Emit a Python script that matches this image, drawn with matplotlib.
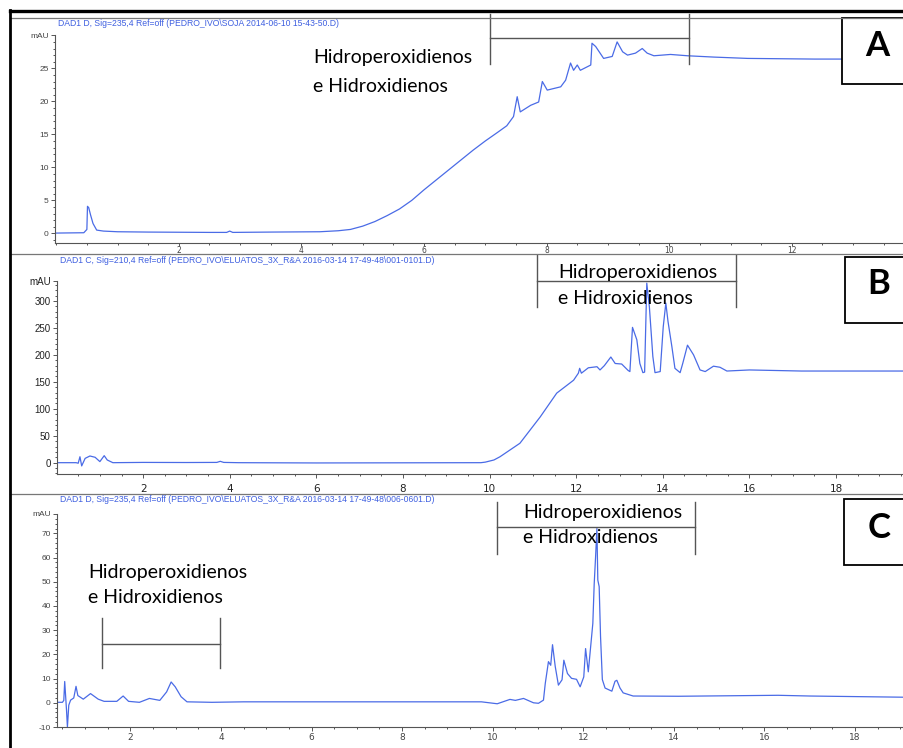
import matplotlib.pyplot as plt
from matplotlib.ticker import MultipleLocator, FixedLocator
from matplotlib.patches import Rectangle
from matplotlib.lines import Line2D

# ---- panel A : SOJA 2014-06-10, 235,4 nm ----
a_time = [0, 0.45, 0.50, 0.51, 0.53, 0.56, 0.60, 0.66, 0.77, 1.0, 1.5, 2.5, 2.78, 2.83, 2.88,
          3.5, 4.3, 4.6, 4.8, 5.0, 5.2, 5.4, 5.6, 5.8, 6.0, 6.2, 6.4, 6.6, 6.8, 7.0, 7.2,
          7.35, 7.46, 7.52, 7.57, 7.74, 7.87, 7.93, 8.01, 8.23, 8.31, 8.39, 8.44, 8.50,
          8.55, 8.72, 8.74, 8.80, 8.93, 9.07, 9.15, 9.24, 9.32, 9.45, 9.56, 9.64, 9.75,
          10.02, 10.3, 10.73, 11.28, 12.37, 13.85]
a_signal = [0.05, 0.1, 0.6, 4.1, 3.9, 2.8, 1.5, 0.5, 0.35, 0.25, 0.2, 0.15, 0.15, 0.35, 0.15,
            0.2, 0.25, 0.4, 0.6, 1.1, 1.8, 2.7, 3.7, 5.0, 6.6, 8.1, 9.6, 11.1, 12.6, 14.0, 15.3,
            16.3, 17.7, 20.7, 18.4, 19.4, 19.9, 23.0, 21.7, 22.2, 23.2, 25.8, 24.7, 25.5,
            24.7, 25.5, 28.8, 28.3, 26.5, 26.8, 29.0, 27.5, 27.0, 27.3, 28.0, 27.3, 26.9,
            27.1, 26.9, 26.7, 26.5, 26.4, 26.4]

# ---- panel B : ELUATOS 001-0101, 210,4 nm ----
b_time = [0, 0.45, 0.50, 0.54, 0.58, 0.66, 0.77, 0.89, 1.0, 1.1, 1.17, 1.3, 2.0, 3.0, 3.7,
          3.78, 3.86, 4.2, 6.0, 9.8, 9.9, 10.0, 10.1, 10.24, 10.7, 11.17, 11.55, 11.94, 12.05,
          12.08, 12.12, 12.28, 12.48, 12.55, 12.65, 12.80, 12.90, 13.05, 13.20, 13.24, 13.30,
          13.40, 13.47, 13.54, 13.58, 13.63, 13.69, 13.77, 13.82, 13.94, 14.01, 14.07, 14.12,
          14.21, 14.28, 14.40, 14.46, 14.57, 14.71, 14.86, 14.98, 15.17, 15.32, 15.48, 16.0,
          17.2, 19.6]
b_signal = [0, 0, -1, 11, -6, 8, 12.4, 10, 2, 13, 5, 0, 0.5, 0.3, 0.5,
            2.5, 0.5, 0, -0.5, 0, 1, 3, 5, 11, 36, 85, 129, 153, 166,
            175, 166, 176, 178, 172, 180, 196, 184, 183, 171, 169, 251,
            228, 184, 167, 168, 333, 289, 197, 167, 169, 252, 296, 262,
            215, 175, 167, 184, 218, 200, 172, 169, 179, 177, 170, 172,
            170, 170]

# ---- panel C : ELUATOS 006-0601, 235,4 nm ----
c_time = [0.38, 0.50, 0.53, 0.55, 0.59, 0.61, 0.64, 0.68, 0.75, 0.80, 0.84, 0.96, 1.12, 1.29,
          1.42, 1.70, 1.84, 1.96, 2.2, 2.42, 2.65, 2.80, 2.90, 2.99, 3.12, 3.25, 3.8, 4.5,
          5.8, 9.0, 9.75, 10.1, 10.38, 10.5, 10.68, 10.9, 11.01, 11.12, 11.16, 11.23, 11.28,
          11.32, 11.38, 11.45, 11.53, 11.57, 11.65, 11.74, 11.85, 11.93, 12.01, 12.05, 12.11,
          12.21, 12.24, 12.27, 12.30, 12.32, 12.35, 12.38, 12.42, 12.48, 12.63, 12.70, 12.74,
          12.81, 12.88, 13.10, 14.1, 16.3, 17.0, 19.1]
c_signal = [0.2, 0.2, 1.0, 8.8, -3.0, -10, -1.0, 1.1, 2.0, 6.8, 3.0, 1.5, 3.8, 1.5,
            0.6, 0.6, 2.8, 0.6, 0.2, 1.8, 1.0, 4.5, 8.6, 6.6, 2.5, 0.4, 0.2, 0.4,
            0.4, 0.4, 0.4, -0.4, 1.4, 1.0, 1.8, 0.0, -0.2, 1.1, 8.0, 17.0, 15.5,
            24.0, 15.0, 7.3, 9.5, 17.6, 12.1, 10.1, 9.7, 6.6, 10.7, 22.4, 12.8,
            32.8, 49.0, 60.0, 72.0, 50.7, 48.0, 27.5, 9.6, 6.1, 4.8, 8.9, 9.3,
            6.1, 4.1, 2.8, 2.7, 3.1, 2.8, 2.3]

headers = [
    "DAD1 D, Sig=235,4 Ref=off (PEDRO_IVO\\SOJA 2014-06-10 15-43-50.D)",
    "DAD1 C, Sig=210,4 Ref=off (PEDRO_IVO\\ELUATOS_3X_R&A 2016-03-14 17-49-48\\001-0101.D)",
    "DAD1 D, Sig=235,4 Ref=off (PEDRO_IVO\\ELUATOS_3X_R&A 2016-03-14 17-49-48\\006-0601.D)",
]
label_lines = ["Hidroperoxidienos", "e Hidroxidienos"]
panel_letters = ["A", "B", "C"]

W, H = 904, 748
TRACE = "#4a6be6"
HEAD = "#3e5fe0"
GRID = "#555555"
TXT_FONT = ["Lato", "DejaVu Sans"]
SMALL_FONT = ["Liberation Sans", "DejaVu Sans"]


def fx(px):
    return px / W


def fy(py):
    return 1 - py / H


fig = plt.figure(figsize=(9.04, 7.48), dpi=100)


def panel(left, top, right, bottom):
    ax = fig.add_axes([fx(left), fy(bottom), fx(right) - fx(left), fy(top) - fy(bottom)])
    ax.patch.set_alpha(0)
    for s in ("top", "right"):
        ax.spines[s].set_visible(False)
    for s in ("left", "bottom"):
        ax.spines[s].set_color(GRID)
        ax.spines[s].set_linewidth(0.8)
    ax.tick_params(which="both", direction="out", color=GRID, width=0.7)
    ax.tick_params(which="major", length=3, pad=1.5)
    ax.tick_params(which="minor", length=1.6)
    return ax


def y_axis(ax, lo, hi, major, minor, top, size, color):
    ticks = list(range(lo, hi + 1, major)) + [top]
    ax.yaxis.set_major_locator(FixedLocator(ticks))
    ax.set_yticklabels([str(t) for t in ticks[:-1]] + ["mAU"], fontsize=size,
                       color=color, family=SMALL_FONT)
    ax.yaxis.set_minor_locator(MultipleLocator(minor))


def bracket(ax, t0, t1, ybar, ytop, ybot):
    kw = dict(color="#555555", lw=1.0, clip_on=False)
    ax.plot([t0, t1], [ybar, ybar], **kw)
    ax.plot([t0, t0], [ybot, ytop], **kw)
    ax.plot([t1, t1], [ybot, ytop], **kw)


def two_lines(ax, t, y1, y2, size=14):
    ax.text(t, y1, label_lines[0], fontsize=size, family=TXT_FONT, va="center", ha="left",
            clip_on=False)
    ax.text(t, y2, label_lines[1], fontsize=size, family=TXT_FONT, va="center", ha="left",
            clip_on=False)


def letter_box(left, top, bottom, cx, cy, letter):
    fig.patches.append(Rectangle((fx(left), fy(bottom)), fx(W + 5) - fx(left),
                                 fy(top) - fy(bottom), transform=fig.transFigure,
                                 fill=True, facecolor="white", edgecolor="black", lw=1.3,
                                 clip_on=False))
    fig.text(fx(cx), fy(cy), letter, fontsize=25, fontweight="bold", family=TXT_FONT,
             ha="center", va="center")


# ---- panel A ----
axA = panel(55, 35.3, W, 243.3)
axA.plot(a_time, a_signal, color=TRACE, lw=0.9)
axA.set_xlim(-0.02, 13.83)
axA.set_ylim(-1.5, 30)
y_axis(axA, 0, 25, 5, 1, 30, 6, "#444444")
axA.xaxis.set_major_locator(FixedLocator([2, 4, 6, 8, 10, 12]))
axA.xaxis.set_minor_locator(MultipleLocator(0.5))
axA.tick_params(axis="x", which="major", length=2, pad=0.3, labelsize=5.5,
                labelcolor="#444444")
axA.tick_params(axis="x", which="minor", length=1.4)
bracket(axA, 7.08, 10.32, 29.6, 33.2, 25.6)
two_lines(axA, 4.19, 26.6, 22.3)

# ---- panel B ----
axB = panel(57, 281, W, 474)
axB.plot(b_time, b_signal, color=TRACE, lw=0.9)
axB.set_xlim(0.01, 19.57)
axB.set_ylim(-21, 337)
y_axis(axB, 0, 300, 50, 10, 337, 7, "#222222")
axB.xaxis.set_major_locator(FixedLocator([2, 4, 6, 8, 10, 12, 14, 16, 18]))
axB.xaxis.set_minor_locator(MultipleLocator(0.5))
axB.tick_params(axis="x", labelsize=7.5, labelcolor="#222222", pad=4)
bracket(axB, 11.09, 15.69, 337.7, 385, 289)
two_lines(axB, 11.58, 352, 304)

# ---- panel C ----
axC = panel(57, 514, W, 727)
axC.plot(c_time, c_signal, color=TRACE, lw=0.9)
axC.set_xlim(0.38, 19.08)
axC.set_ylim(-10, 78)
y_axis(axC, -10, 70, 10, 2, 78, 6, "#444444")
axC.xaxis.set_major_locator(FixedLocator([2, 4, 6, 8, 10, 12, 14, 16, 18]))
axC.xaxis.set_minor_locator(MultipleLocator(0.5))
axC.tick_params(axis="x", labelsize=6.5, labelcolor="#444444")
bracket(axC, 10.09, 14.47, 72.6, 82.9, 61.6)
two_lines(axC, 10.67, 78.6, 68.2)
bracket(axC, 1.375, 3.98, 24.3, 35.0, 14.3)
two_lines(axC, 1.07, 53.9, 43.6)

# ---- headers, frame lines and letter boxes ----
for text, x, y in zip(headers, [58, 60, 60], [23, 261, 500]):
    fig.text(fx(x), fy(y), text, fontsize=6.2, color=HEAD, family=SMALL_FONT,
             ha="left", va="center")

for y in [18.3, 254.3, 494]:
    fig.add_artist(Line2D([fx(10), 1], [fy(y), fy(y)], transform=fig.transFigure,
                          color="#777777", lw=0.9))
fig.add_artist(Line2D([fx(10), 1], [fy(10.7), fy(10.7)], transform=fig.transFigure,
                      color="black", lw=2.4))
fig.add_artist(Line2D([fx(10.3), fx(10.3)], [fy(10), 0], transform=fig.transFigure,
                      color="black", lw=2.0))

for (left, top, bottom, cx, cy), letter in zip(
        [(842, 18, 84, 877.5, 46), (845, 257, 323, 879, 284), (844, 499, 565, 879, 528)],
        panel_letters):
    letter_box(left, top, bottom, cx, cy, letter)

fig.savefig("out.png", dpi=100)
